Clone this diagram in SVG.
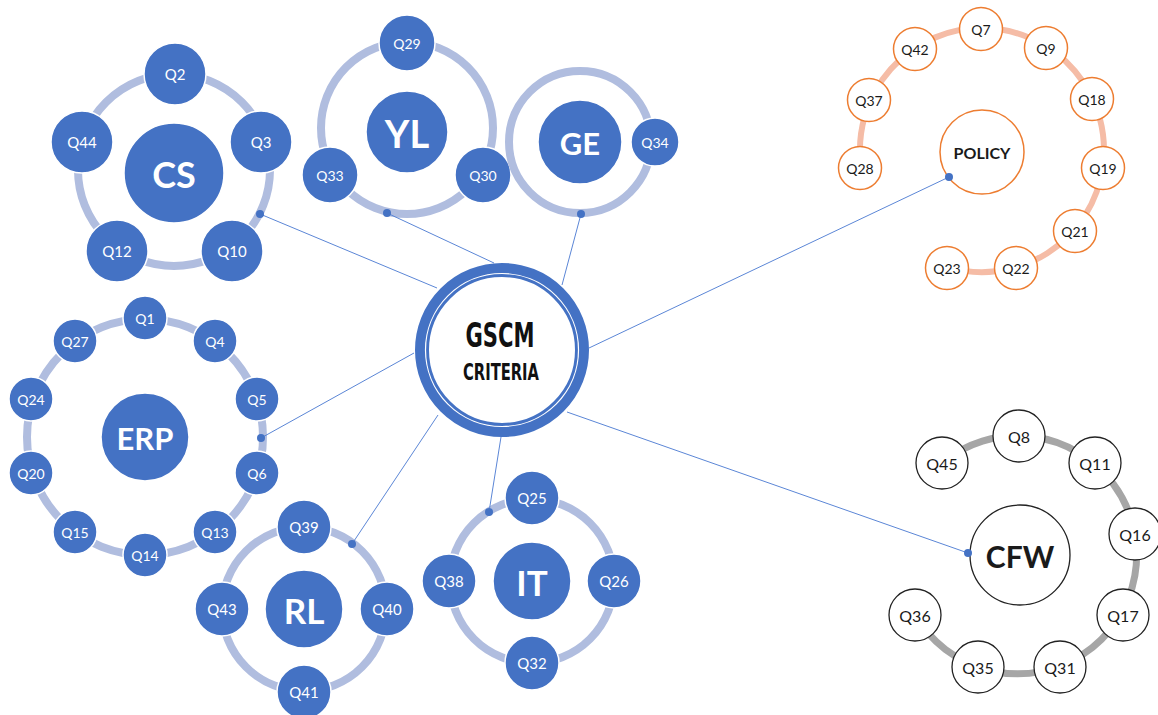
<svg xmlns="http://www.w3.org/2000/svg" width="1158" height="715" viewBox="0 0 1158 715">
  <style>
    .ring { fill: none; stroke: #B0BDDF; stroke-width: 8; }
    .hub { fill: #4472C4; stroke: #FFFFFF; stroke-width: 1.5; }
    .sat { fill: #4472C4; stroke: #FFFFFF; stroke-width: 1.5; }
    .hubTxt { font-family: Lato, "Liberation Sans", sans-serif; font-weight: bold; fill: #FFFFFF; text-anchor: middle; dominant-baseline: central; }
    .satTxt { font-family: Lato, "Liberation Sans", sans-serif; fill: #FFFFFF; text-anchor: middle; dominant-baseline: central; }
    .oRing { fill: none; stroke: #F5BCA6; stroke-width: 6; }
    .oNode { fill: #FFFFFF; stroke: #ED7D31; stroke-width: 1.5; }
    .gRing { fill: none; stroke: #A6A6A6; stroke-width: 7; }
    .gNode { fill: #FFFFFF; stroke: #222222; stroke-width: 1.3; }
    .darkTxt { font-family: Lato, "Liberation Sans", sans-serif; fill: #1A1A1A; text-anchor: middle; dominant-baseline: central; }
    .link { stroke: #5B86D6; stroke-width: 1; fill: none; }
    .dot { fill: #4472C4; }
  </style>

  <!-- CS -->
  <g id="cs" font-size="15">
    <circle class="ring" cx="174" cy="170" r="96"/>
    <circle class="sat" cx="175" cy="74" r="31"/><text class="satTxt" x="175" y="74">Q2</text>
    <circle class="sat" cx="261" cy="142" r="31"/><text class="satTxt" x="261" y="142">Q3</text>
    <circle class="sat" cx="232" cy="251" r="31"/><text class="satTxt" x="232" y="251">Q10</text>
    <circle class="sat" cx="117" cy="251" r="31"/><text class="satTxt" x="117" y="251">Q12</text>
    <circle class="sat" cx="82" cy="142" r="31"/><text class="satTxt" x="82" y="142">Q44</text>
    <circle class="hub" cx="174" cy="173" r="50"/><text class="hubTxt" x="174" y="174" font-size="36">CS</text>
  </g>

  <!-- YL -->
  <g id="yl" font-size="14">
    <circle class="ring" cx="407" cy="128" r="86"/>
    <circle class="sat" cx="407" cy="43" r="28"/><text class="satTxt" x="407" y="43">Q29</text>
    <circle class="sat" cx="330" cy="175" r="28"/><text class="satTxt" x="330" y="175">Q33</text>
    <circle class="sat" cx="483" cy="175" r="28"/><text class="satTxt" x="483" y="175">Q30</text>
    <circle class="hub" cx="407" cy="132" r="41"/><text class="hubTxt" x="407" y="133" font-size="38">YL</text>
  </g>

  <!-- GE -->
  <g id="ge" font-size="14">
    <circle class="ring" cx="580" cy="142" r="71"/>
    <circle class="hub" cx="580" cy="142" r="42"/><text class="hubTxt" x="580" y="143" font-size="31">GE</text>
    <circle class="sat" cx="655" cy="142" r="24"/><text class="satTxt" x="655" y="142">Q34</text>
  </g>

  <!-- ERP -->
  <g id="erp" font-size="14">
    <circle class="ring" cx="145" cy="437" r="118"/>
    <circle class="sat" cx="145" cy="318" r="22"/><text class="satTxt" x="145" y="318">Q1</text>
    <circle class="sat" cx="215" cy="341" r="22"/><text class="satTxt" x="215" y="341">Q4</text>
    <circle class="sat" cx="257" cy="399" r="22"/><text class="satTxt" x="257" y="399">Q5</text>
    <circle class="sat" cx="257" cy="473" r="22"/><text class="satTxt" x="257" y="473">Q6</text>
    <circle class="sat" cx="215" cy="532" r="22"/><text class="satTxt" x="215" y="532">Q13</text>
    <circle class="sat" cx="145" cy="555" r="22"/><text class="satTxt" x="145" y="555">Q14</text>
    <circle class="sat" cx="75" cy="532" r="22"/><text class="satTxt" x="75" y="532">Q15</text>
    <circle class="sat" cx="31" cy="473" r="22"/><text class="satTxt" x="31" y="473">Q20</text>
    <circle class="sat" cx="31" cy="399" r="22"/><text class="satTxt" x="31" y="399">Q24</text>
    <circle class="sat" cx="75" cy="341" r="22"/><text class="satTxt" x="75" y="341">Q27</text>
    <circle class="hub" cx="145" cy="437" r="44"/><text class="hubTxt" x="145" y="438" font-size="31">ERP</text>
  </g>

  <!-- RL -->
  <g id="rl" font-size="15">
    <circle class="ring" cx="304" cy="609" r="82"/>
    <circle class="sat" cx="304" cy="527" r="27"/><text class="satTxt" x="304" y="527">Q39</text>
    <circle class="sat" cx="387" cy="609" r="27"/><text class="satTxt" x="387" y="609">Q40</text>
    <circle class="sat" cx="304" cy="692" r="27"/><text class="satTxt" x="304" y="692">Q41</text>
    <circle class="sat" cx="222" cy="609" r="27"/><text class="satTxt" x="222" y="609">Q43</text>
    <circle class="hub" cx="304" cy="609" r="39"/><text class="hubTxt" x="304" y="610" font-size="35">RL</text>
  </g>

  <!-- IT -->
  <g id="it" font-size="15">
    <circle class="ring" cx="532" cy="581" r="82"/>
    <circle class="sat" cx="532" cy="498" r="27"/><text class="satTxt" x="532" y="498">Q25</text>
    <circle class="sat" cx="614" cy="581" r="27"/><text class="satTxt" x="614" y="581">Q26</text>
    <circle class="sat" cx="532" cy="663" r="27"/><text class="satTxt" x="532" y="663">Q32</text>
    <circle class="sat" cx="449" cy="581" r="27"/><text class="satTxt" x="449" y="581">Q38</text>
    <circle class="hub" cx="532" cy="581" r="39"/><text class="hubTxt" x="532" y="582" font-size="35">IT</text>
  </g>

  <!-- POLICY -->
  <g id="policy" font-size="14">
    <path class="oRing" d="M 861 166 A 122 122 0 1 1 947 267"/>
    <circle class="oNode" cx="981" cy="29" r="21.5"/><text class="darkTxt" x="981" y="29">Q7</text>
    <circle class="oNode" cx="1046" cy="48" r="21.5"/><text class="darkTxt" x="1046" y="48">Q9</text>
    <circle class="oNode" cx="1092" cy="99" r="21.5"/><text class="darkTxt" x="1092" y="99">Q18</text>
    <circle class="oNode" cx="1103" cy="168" r="21.5"/><text class="darkTxt" x="1103" y="168">Q19</text>
    <circle class="oNode" cx="1075" cy="231" r="21.5"/><text class="darkTxt" x="1075" y="231">Q21</text>
    <circle class="oNode" cx="1016" cy="268" r="21.5"/><text class="darkTxt" x="1016" y="268">Q22</text>
    <circle class="oNode" cx="947" cy="268" r="21.5"/><text class="darkTxt" x="947" y="268">Q23</text>
    <circle class="oNode" cx="860" cy="168" r="21.5"/><text class="darkTxt" x="860" y="168">Q28</text>
    <circle class="oNode" cx="869" cy="100" r="21.5"/><text class="darkTxt" x="869" y="100">Q37</text>
    <circle class="oNode" cx="915" cy="49" r="21.5"/><text class="darkTxt" x="915" y="49">Q42</text>
    <circle class="oNode" cx="982" cy="152" r="42"/>
    <text class="darkTxt" x="982" y="152" font-size="16" font-weight="bold">POLICY</text>
  </g>

  <!-- CFW -->
  <g id="cfw" font-size="16">
    <path class="gRing" d="M 942 463 A 119 119 0 1 1 915 615"/>
    <circle class="gNode" cx="1019" cy="436" r="26"/><text class="darkTxt" x="1019" y="436">Q8</text>
    <circle class="gNode" cx="1095" cy="463" r="26"/><text class="darkTxt" x="1095" y="463">Q11</text>
    <circle class="gNode" cx="1135" cy="534" r="26"/><text class="darkTxt" x="1135" y="534">Q16</text>
    <circle class="gNode" cx="1123" cy="615" r="26"/><text class="darkTxt" x="1123" y="615">Q17</text>
    <circle class="gNode" cx="1060" cy="667" r="26"/><text class="darkTxt" x="1060" y="667">Q31</text>
    <circle class="gNode" cx="978" cy="667" r="26"/><text class="darkTxt" x="978" y="667">Q35</text>
    <circle class="gNode" cx="915" cy="615" r="26"/><text class="darkTxt" x="915" y="615">Q36</text>
    <circle class="gNode" cx="942" cy="463" r="26"/><text class="darkTxt" x="942" y="463">Q45</text>
    <circle class="gNode" cx="1020" cy="555" r="50"/>
    <text class="darkTxt" x="1020" y="556" font-size="30" font-weight="bold">CFW</text>
  </g>

  <!-- links from the hub to each group -->
  <g id="connectors">
    <line class="link" x1="260" y1="214" x2="437" y2="288"/>
    <line class="link" x1="387" y1="213" x2="494" y2="263"/>
    <line class="link" x1="581" y1="214" x2="562" y2="285"/>
    <line class="link" x1="949" y1="177" x2="589" y2="348"/>
    <line class="link" x1="261" y1="438" x2="414" y2="353"/>
    <line class="link" x1="352" y1="544" x2="438" y2="415"/>
    <line class="link" x1="489" y1="512" x2="501" y2="437"/>
    <line class="link" x1="968" y1="553" x2="567" y2="412"/>
    <circle class="dot" cx="260" cy="214" r="4"/>
    <circle class="dot" cx="387" cy="213" r="4"/>
    <circle class="dot" cx="581" cy="214" r="4"/>
    <circle class="dot" cx="949" cy="177" r="4"/>
    <circle class="dot" cx="261" cy="438" r="4"/>
    <circle class="dot" cx="352" cy="544" r="4"/>
    <circle class="dot" cx="489" cy="512" r="4"/>
    <circle class="dot" cx="968" cy="553" r="4"/>
  </g>

  <!-- central hub -->
  <g id="gscm">
    <circle cx="502" cy="350" r="80" fill="#FFFFFF" stroke="#4472C4" stroke-width="14"/>
    <circle cx="502" cy="350" r="76.5" fill="none" stroke="#FFFFFF" stroke-width="1.2"/>
    <text x="500" y="347" font-family="'DejaVu Sans Condensed', 'Liberation Sans Narrow', sans-serif" font-weight="bold" font-size="33" fill="#111111" text-anchor="middle" textLength="69" lengthAdjust="spacingAndGlyphs">GSCM</text>
    <text x="501" y="380" font-family="'DejaVu Sans Condensed', 'Liberation Sans Narrow', sans-serif" font-weight="bold" font-size="23" fill="#111111" text-anchor="middle" textLength="76" lengthAdjust="spacingAndGlyphs">CRITERIA</text>
  </g>
</svg>
